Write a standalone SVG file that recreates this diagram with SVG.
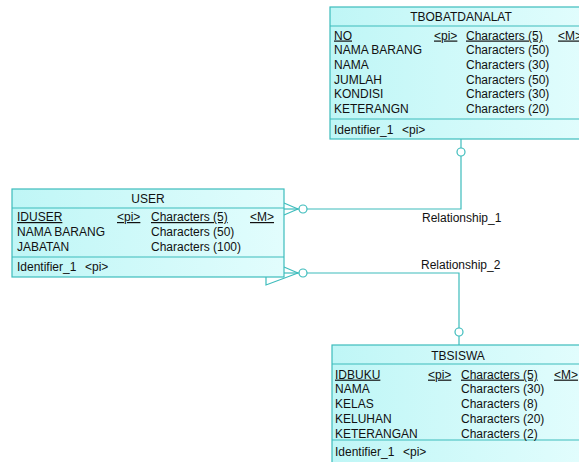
<svg xmlns="http://www.w3.org/2000/svg" width="579" height="462" viewBox="0 0 579 462">
<defs>
<linearGradient id="fillg" x1="0" y1="0" x2="1" y2="0">
<stop offset="0" stop-color="#bff6f6"/>
<stop offset="1" stop-color="#e2fdfd"/>
</linearGradient>
<style>
.box{fill:url(#fillg);stroke:#3dbcbc;stroke-width:1.2}
.sep{stroke:#3dbcbc;stroke-width:1.2}
.t{font-family:"Liberation Sans",Arial,sans-serif;font-size:12px;fill:#111}
.u{text-decoration:underline}
.mid{text-anchor:middle}
.ln{fill:none;stroke:#3dbcbc;stroke-width:1.2}
.c{fill:#fff;stroke:#3dbcbc;stroke-width:1.2}
</style>
</defs>
<rect width="579" height="462" fill="#fff"/>

<g id="connectors">
<g id="rel1">
<polyline class="ln" points="461,139 461,148"/>
<circle class="c" cx="461" cy="152" r="4"/>
<polyline class="ln" points="461,156 461,209 307,209"/>
<circle class="c" cx="303" cy="209" r="4"/>
<line class="ln" x1="299" y1="209" x2="284" y2="209"/>
<line class="ln" x1="298" y1="209" x2="284" y2="203"/>
<line class="ln" x1="298" y1="209" x2="284" y2="215"/>
<text class="t" x="422" y="222">Relationship_1</text>
</g>
<g id="rel2">
<polyline class="ln" points="459,345 459,336"/>
<circle class="c" cx="459" cy="332" r="4"/>
<polyline class="ln" points="459,328 459,273 307,273"/>
<circle class="c" cx="303" cy="273" r="4"/>
<line class="ln" x1="299" y1="273" x2="284" y2="273"/>
<line class="ln" x1="298" y1="273" x2="284" y2="267"/>
<polyline class="ln" points="266,277 266,285 298,273"/>
<text class="t" x="421" y="269">Relationship_2</text>
</g>
</g>

<g id="TBOBATDANALAT">
<rect class="box" x="330" y="7" width="262" height="132"/>
<line class="sep" x1="330" y1="26" x2="592" y2="26"/>
<line class="sep" x1="330" y1="119" x2="592" y2="119"/>
<text class="t mid" x="461" y="21">TBOBATDANALAT</text>
<text class="t u" x="334" y="39.5">NO</text>
<text class="t u" x="434" y="39.5">&lt;pi&gt;</text>
<text class="t u" x="466" y="39.5">Characters (5)</text>
<text class="t u" x="558" y="39.5">&lt;M&gt;</text>
<text class="t" x="334" y="54.2">NAMA BARANG</text>
<text class="t" x="466" y="54.2">Characters (50)</text>
<text class="t" x="334" y="68.9">NAMA</text>
<text class="t" x="466" y="68.9">Characters (30)</text>
<text class="t" x="334" y="83.6">JUMLAH</text>
<text class="t" x="466" y="83.6">Characters (50)</text>
<text class="t" x="334" y="98.3">KONDISI</text>
<text class="t" x="466" y="98.3">Characters (30)</text>
<text class="t" x="334" y="113">KETERANGN</text>
<text class="t" x="466" y="113">Characters (20)</text>
<text class="t" x="334" y="133.5">Identifier_1  <tspan x="402">&lt;pi&gt;</tspan></text>
</g>

<g id="USER">
<rect class="box" x="12" y="189" width="272" height="88"/>
<line class="sep" x1="12" y1="208" x2="284" y2="208"/>
<line class="sep" x1="12" y1="257" x2="284" y2="257"/>
<text class="t mid" x="148" y="203">USER</text>
<text class="t u" x="17" y="221">IDUSER</text>
<text class="t u" x="117" y="221">&lt;pi&gt;</text>
<text class="t u" x="151" y="221">Characters (5)</text>
<text class="t u" x="250" y="221">&lt;M&gt;</text>
<text class="t" x="17" y="236">NAMA BARANG</text>
<text class="t" x="151" y="236">Characters (50)</text>
<text class="t" x="17" y="251">JABATAN</text>
<text class="t" x="151" y="251">Characters (100)</text>
<text class="t" x="17" y="271">Identifier_1  <tspan x="85">&lt;pi&gt;</tspan></text>
</g>

<g id="TBSISWA">
<rect class="box" x="332" y="345" width="252" height="125"/>
<line class="sep" x1="332" y1="364" x2="584" y2="364"/>
<line class="sep" x1="332" y1="440" x2="584" y2="440"/>
<text class="t mid" x="458" y="360">TBSISWA</text>
<text class="t u" x="335" y="378.6">IDBUKU</text>
<text class="t u" x="428" y="378.6">&lt;pi&gt;</text>
<text class="t u" x="461" y="378.6">Characters (5)</text>
<text class="t u" x="554" y="378.6">&lt;M&gt;</text>
<text class="t" x="335" y="393.4">NAMA</text>
<text class="t" x="461" y="393.4">Characters (30)</text>
<text class="t" x="335" y="408.2">KELAS</text>
<text class="t" x="461" y="408.2">Characters (8)</text>
<text class="t" x="335" y="423">KELUHAN</text>
<text class="t" x="461" y="423">Characters (20)</text>
<text class="t" x="335" y="437.8">KETERANGAN</text>
<text class="t" x="461" y="437.8">Characters (2)</text>
<text class="t" x="335" y="456">Identifier_1  <tspan x="403">&lt;pi&gt;</tspan></text>
</g>
</svg>
